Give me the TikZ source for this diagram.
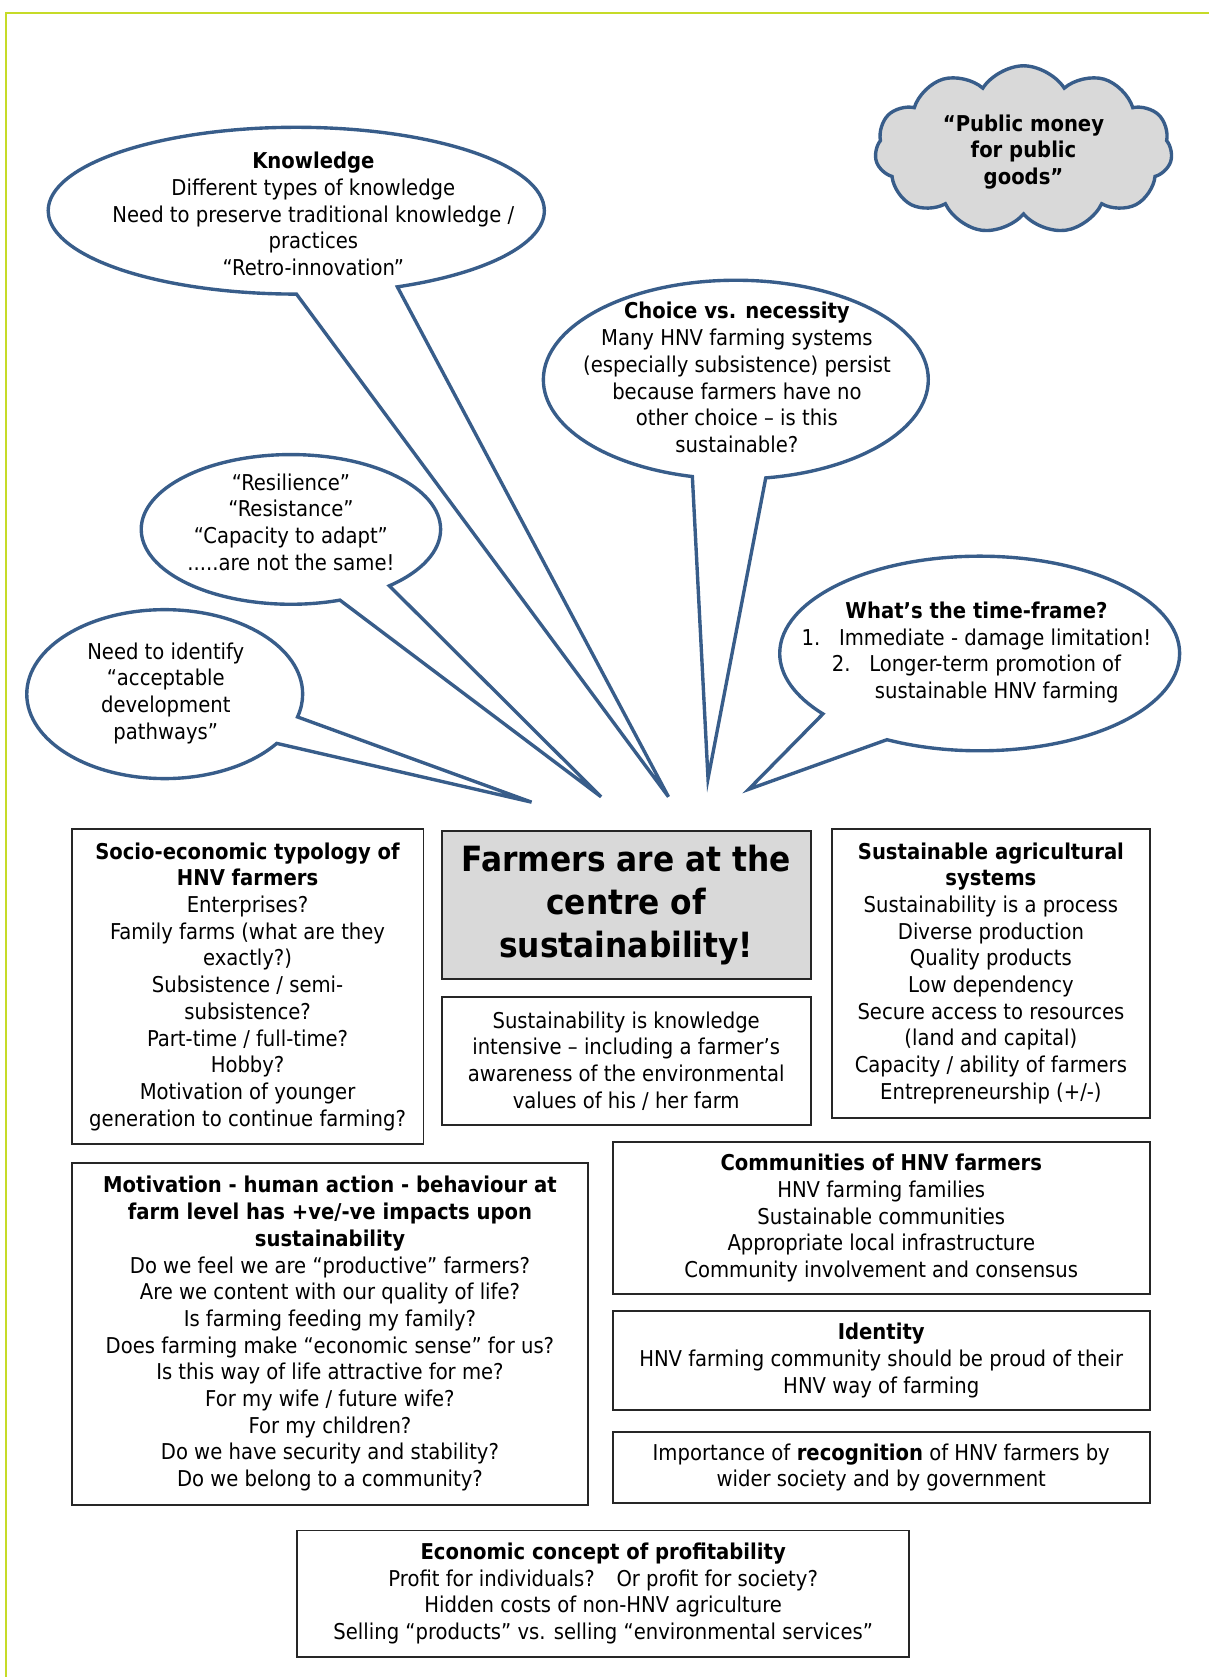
\documentclass[tikz,border=0pt]{standalone}
\usepackage{fontspec}
\setmainfont{DejaVu Sans Condensed}
\usetikzlibrary{shapes.callouts,shapes.symbols}

\definecolor{bubbleblue}{RGB}{56,93,138}
\definecolor{framelime}{RGB}{198,219,40}
\definecolor{titlegray}{RGB}{217,217,217}

\tikzset{
  bubble/.style={ellipse callout, draw=bubbleblue, line width=1.8pt, fill=white},
  txt/.style={align=center, inner sep=0pt, font=\fontsize{11.6}{14.2}\selectfont},
  box/.style={draw=black!85, line width=1pt, align=center, inner sep=0pt,
    font=\fontsize{11.6}{14.2}\selectfont},
}

\begin{document}
\begin{tikzpicture}[x=0.02cm, y=-0.02cm]
  \useasboundingbox (0,0) rectangle (1130,1568);
  \draw[framelime, line width=1.2pt] (5.5,1568) -- (5.5,12) -- (1130,12);

  % where the bubbles point
  \coordinate (tipKnow) at (625,745);
  \coordinate (tipChoice) at (662,728);
  \coordinate (tipResil) at (562,745);
  \coordinate (tipPath) at (497,750);
  \coordinate (tipFrame) at (700,738);

  % cloud
  \node[cloud, cloud puffs=11, cloud puff arc=115, cloud ignores aspect,
    minimum width=5.56cm, minimum height=3.14cm, fill=titlegray,
    draw=bubbleblue, line width=1.8pt] (cloud) at (957,140) {};
  \node[txt, font=\fontsize{11.6}{14.2}\selectfont\bfseries] (cloudT) at (957,142)
    {“Public money\\ for public\\ goods”};

  % speech bubbles
  \node[bubble, minimum width=9.28cm, minimum height=3.12cm,
    callout absolute pointer={(tipKnow)}, callout pointer arc=24] (know) at (277,197) {};
  \node[txt] (knowT) at (293,200) {\textbf{Knowledge}\\ Different types of knowledge\\
    Need to preserve traditional knowledge /\\ practices\\ “Retro-innovation”};

  \node[bubble, minimum width=7.2cm, minimum height=3.72cm,
    callout absolute pointer={(tipChoice)}, callout pointer arc=22] (choice) at (688,355) {};
  \node[txt] (choiceT) at (689,353) {\textbf{Choice vs. necessity}\\ Many HNV farming systems\\
    (especially subsistence) persist\\ because farmers have no\\ other choice – is this\\ sustainable?};

  \node[bubble, minimum width=5.6cm, minimum height=2.8cm,
    callout absolute pointer={(tipResil)}, callout pointer arc=22] (resil) at (272,495) {};
  \node[txt] (resilT) at (272,488) {“Resilience”\\ “Resistance”\\ “Capacity to adapt”\\ .....are not the same!};

  \node[bubble, minimum width=5.16cm, minimum height=3.16cm,
    callout absolute pointer={(tipPath)}, callout pointer arc=20] (path) at (154,649) {};
  \node[txt] (pathT) at (155,648) {Need to identify\\ “acceptable\\ development\\ pathways”};

  \node[bubble, minimum width=7.48cm, minimum height=3.64cm,
    callout absolute pointer={(tipFrame)}, callout pointer arc=24] (frame) at (916,611) {};
  \node[txt] (frameT) at (913,610) {\textbf{What’s the time-frame?}\\
    1.\hspace{0.35cm}Immediate - damage limitation!\\
    2.\hspace{0.35cm}Longer-term promotion of\\
    \hspace*{0.76cm}sustainable HNV farming};

  % boxes
  \node[box, minimum width=6.58cm, minimum height=5.9cm] (socio) at (231.5,922.5)
    {\textbf{Socio-economic typology of}\\ \textbf{HNV farmers}\\ Enterprises?\\
     Family farms (what are they\\ exactly?)\\ Subsistence / semi-\\ subsistence?\\
     Part-time / full-time?\\ Hobby?\\ Motivation of younger\\ generation to continue farming?};

  \node[box, fill=titlegray, minimum width=6.9cm, minimum height=2.76cm,
    font=\fontsize{18.5}{23}\selectfont\bfseries] (centre) at (585.5,846)
    {Farmers are at the\\ centre of\\ sustainability!};

  \node[box, minimum width=6.9cm, minimum height=2.38cm] (intens) at (585.5,992)
    {Sustainability is knowledge\\ intensive – including a farmer’s\\
     awareness of the environmental\\ values of his / her farm};

  \node[box, minimum width=5.96cm, minimum height=5.4cm] (systems) at (926.5,910)
    {\textbf{Sustainable agricultural}\\ \textbf{systems}\\ Sustainability is a process\\
     Diverse production\\ Quality products\\ Low dependency\\ Secure access to resources\\
     (land and capital)\\ Capacity / ability of farmers\\ Entrepreneurship (+/-)};

  \node[box, minimum width=9.66cm, minimum height=6.4cm] (motiv) at (308.5,1247)
    {\textbf{Motivation - human action - behaviour at}\\
     \textbf{farm level has +ve/-ve impacts upon}\\ \textbf{sustainability}\\
     Do we feel we are “productive” farmers?\\ Are we content with our quality of life?\\
     Is farming feeding my family?\\ Does farming make “economic sense” for us?\\
     Is this way of life attractive for me?\\ For my wife / future wife?\\
     For my children?\\ Do we have security and stability?\\ Do we belong to a community?};

  \node[box, minimum width=10.04cm, minimum height=2.84cm] (commun) at (824,1139)
    {\textbf{Communities of HNV farmers}\\ HNV farming families\\ Sustainable communities\\
     Appropriate local infrastructure\\ Community involvement and consensus};

  \node[box, minimum width=10.04cm, minimum height=1.84cm] (ident) at (824,1272)
    {\textbf{Identity}\\ HNV farming community should be proud of their\\ HNV way of farming};

  \node[box, minimum width=10.04cm, minimum height=1.32cm] (recog) at (824,1372)
    {Importance of \textbf{recognition} of HNV farmers by\\ wider society and by government};

  \node[box, minimum width=11.44cm, minimum height=2.36cm] (econ) at (564,1490)
    {\textbf{Economic concept of profitability}\\ Profit for individuals?\quad Or profit for society?\\
     Hidden costs of non-HNV agriculture\\ Selling “products” vs. selling “environmental services”};
\end{tikzpicture}
\end{document}
